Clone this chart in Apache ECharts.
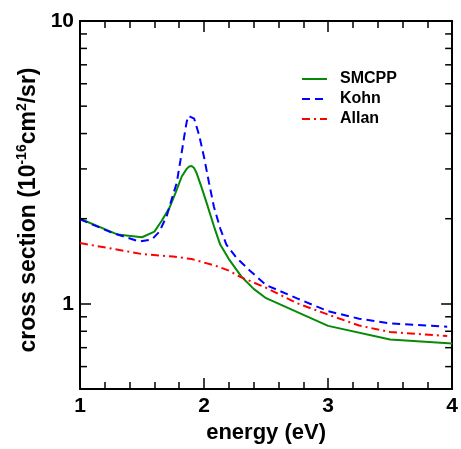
<!DOCTYPE html>
<html>
<head>
<meta charset="utf-8">
<script src="https://cdn.jsdelivr.net/npm/echarts@6/dist/echarts.min.js"></script>
<style>
html,body{margin:0;padding:0;background:#fff;}
#c{width:461px;height:449px;}
</style>
</head>
<body>
<div id="c"></div>
<script>
// ---- data ----
const smcppEnergy = [1.0, 1.3, 1.5, 1.6, 1.66, 1.72, 1.77, 1.82, 1.86, 1.88, 1.9, 1.92, 1.94, 1.98, 2.02, 2.08, 2.13, 2.2, 2.3, 2.4, 2.5, 3.0, 3.5, 4.0];
const smcppValues = [2.0, 1.76, 1.72, 1.80, 1.97, 2.18, 2.47, 2.82, 3.0, 3.06, 3.07, 3.02, 2.90, 2.58, 2.28, 1.88, 1.62, 1.44, 1.25, 1.13, 1.047, 0.836, 0.748, 0.724];

const kohnEnergy = [1.0, 1.25, 1.48, 1.58, 1.64, 1.70, 1.74, 1.78, 1.81, 1.84, 1.86, 1.875, 1.89, 1.92, 1.96, 2.0, 2.04, 2.08, 2.13, 2.18, 2.26, 2.37, 2.5, 2.75, 3.0, 3.25, 3.5, 3.96];
const kohnValues = [1.99, 1.79, 1.66, 1.69, 1.80, 2.05, 2.35, 2.68, 3.22, 3.9, 4.40, 4.62, 4.69, 4.52, 3.95, 3.30, 2.68, 2.20, 1.85, 1.62, 1.457, 1.31, 1.165, 1.045, 0.942, 0.886, 0.853, 0.830];

const allanEnergy = [1.0, 1.25, 1.5, 1.75, 1.9, 2.0, 2.1, 2.2, 2.3, 2.4, 2.5, 2.75, 3.0, 3.25, 3.5, 3.96];
const allanValues = [1.64, 1.57, 1.50, 1.47, 1.44, 1.40, 1.36, 1.31, 1.24, 1.19, 1.14, 1.005, 0.916, 0.838, 0.795, 0.77];

const seriesNames = ['SMCPP', 'Kohn', 'Allan'];
const xTickLabels = [1, 2, 3, 4];
const yLabelledTicks = [1, 10];
const yMinorTicks = [0.6, 0.7, 0.8, 0.9, 2, 3, 4, 5, 6, 7, 8, 9];

const FONT = '"Liberation Sans", Arial, Helvetica, sans-serif';
const pairs = (xs, ys) => xs.map((x, i) => [x, ys[i]]);

const chart = echarts.init(document.getElementById('c'), null, {renderer: 'canvas'});

const axisLine = {show: true, onZero: false, lineStyle: {color: '#000', width: 2}};
const tickStyle = {color: '#000', width: 1.5};

const option = {
  animation: false,
  backgroundColor: '#fff',
  grid: {left: 80, right: 4.5, top: 21, bottom: 51.5, containLabel: false},
  legend: {
    orient: 'vertical',
    left: 301, top: 70, padding: 0,
    itemWidth: 25, itemHeight: 12, itemGap: 2,
    data: seriesNames,
    itemStyle: {opacity: 0},
    textStyle: {fontFamily: FONT, fontWeight: 'bold', fontSize: 16, lineHeight: 18, color: '#000', padding: [0, 0, 0, 8]}
  },
  xAxis: [{
    type: 'value', position: 'bottom', min: 1, max: 4, interval: 1,
    axisLine: axisLine,
    axisTick: {show: true, inside: true, length: 11, lineStyle: tickStyle},
    minorTick: {show: true, splitNumber: 5, length: 7, lineStyle: tickStyle},
    splitLine: {show: false},
    axisLabel: {show: true, margin: 7, fontFamily: FONT, fontWeight: 'bold', fontSize: 21, color: '#000',
      formatter: v => xTickLabels.indexOf(v) >= 0 ? String(v) : ''},
    name: 'energy (eV)', nameLocation: 'middle', nameGap: 33,
    nameTextStyle: {fontFamily: FONT, fontWeight: 'bold', fontSize: 22, color: '#000'}
  }, {
    type: 'value', position: 'top', min: 1, max: 4, interval: 1,
    axisLine: axisLine,
    axisTick: {show: true, inside: true, length: 11, lineStyle: tickStyle},
    minorTick: {show: true, splitNumber: 5, length: 7, lineStyle: tickStyle},
    splitLine: {show: false},
    axisLabel: {show: false}
  }],
  yAxis: [{
    type: 'log', logBase: 10, min: 0.5, max: 10, position: 'left',
    axisLine: axisLine,
    axisTick: {show: true, inside: true, length: 11, lineStyle: tickStyle},
    splitLine: {show: false},
    axisLabel: {show: true, margin: 6, fontFamily: FONT, fontWeight: 'bold', fontSize: 21, color: '#000',
      formatter: v => yLabelledTicks.some(t => Math.abs(t - v) < 1e-9) ? String(Math.round(v)) : ''},
    name: '{a|cross section (10}{s|-16}{a|cm}{s|2}{a|/sr)}',
    nameLocation: 'middle', nameGap: 32,
    nameTextStyle: {
      padding: [0, 10, 0, 0],
      rich: {
        a: {fontFamily: FONT, fontWeight: 'bold', fontSize: 23, color: '#000', lineHeight: 28, verticalAlign: 'bottom'},
        s: {fontFamily: FONT, fontWeight: 'bold', fontSize: 14, color: '#000', lineHeight: 28, verticalAlign: 'bottom', padding: [0, 0, 11, 0]}
      }
    }
  }, {
    type: 'log', logBase: 10, min: 0.5, max: 10, position: 'right',
    axisLine: axisLine,
    axisTick: {show: true, inside: true, length: 11, lineStyle: tickStyle},
    splitLine: {show: false},
    axisLabel: {show: false}
  }],
  series: [{
    name: seriesNames[0], type: 'line', xAxisIndex: 0, yAxisIndex: 0,
    data: pairs(smcppEnergy, smcppValues),
    showSymbol: false,
    lineStyle: {color: '#078a07', width: 2, type: 'solid'},
    itemStyle: {color: '#078a07'}
  }, {
    name: seriesNames[1], type: 'line', xAxisIndex: 0, yAxisIndex: 0,
    data: pairs(kohnEnergy, kohnValues),
    showSymbol: false,
    lineStyle: {color: '#0000ff', width: 2, type: [8, 5]},
    itemStyle: {color: '#0000ff'}
  }, {
    name: seriesNames[2], type: 'line', xAxisIndex: 0, yAxisIndex: 0,
    data: pairs(allanEnergy, allanValues),
    showSymbol: false,
    lineStyle: {color: '#ff0000', width: 2, type: [8, 4, 2, 4]},
    itemStyle: {color: '#ff0000'}
  }]
};

chart.setOption(option);

// minor ticks of the log axes (placed through the library's own scale)
function addMinorTicks() {
  const g = [];
  const xl = chart.convertToPixel({xAxisIndex: 0}, 1);
  const xr = chart.convertToPixel({xAxisIndex: 0}, 4);
  yMinorTicks.forEach(v => {
    const y = chart.convertToPixel({yAxisIndex: 0}, v);
    g.push({type: 'line', shape: {x1: xl, y1: y, x2: xl + 7, y2: y}, style: {stroke: '#000', lineWidth: 1.5}, z: 10});
    g.push({type: 'line', shape: {x1: xr, y1: y, x2: xr - 7, y2: y}, style: {stroke: '#000', lineWidth: 1.5}, z: 10});
  });
  chart.setOption({graphic: g});
}
addMinorTicks();
</script>
</body>
</html>
